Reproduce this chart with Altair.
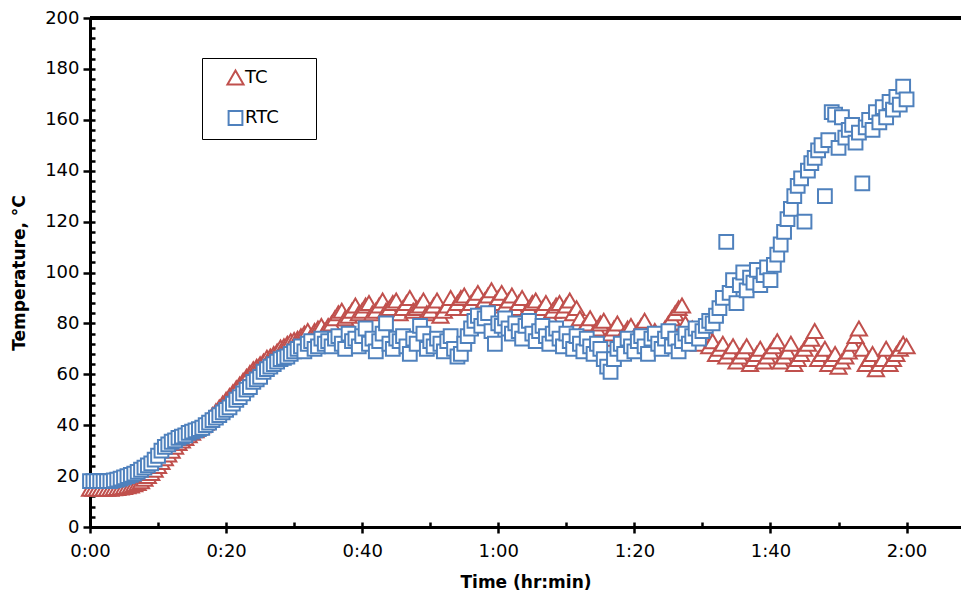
import altair as alt
import pandas as pd

# sampling grid: one reading every 0.5 min (0:00 .. 2:00)
TIME_MIN = [i * 0.5 for i in range(241)]

TC = [
    15, 15, 15, 15, 15, 15, 15, 15.2, 15.3, 15.5, 15.7,
    16, 16.3, 16.8, 17.3, 18, 19, 20, 21.2, 22.5, 24,
    25.5, 27, 28.5, 30, 31.5, 33, 34, 35, 36, 37,
    38, 39, 40, 41, 42.5, 44, 45.5, 47, 48.5, 50,
    51.5, 53, 54.5, 56, 57.5, 59, 60.5, 62, 63, 64,
    65, 66.5, 67, 68, 69, 70.5, 71, 72, 73, 73.5,
    74, 75, 76, 77, 75, 77, 78, 79, 77, 79,
    80, 82, 84, 85, 82, 83, 85, 87, 84, 85,
    87, 88, 84, 85, 87, 89, 85, 86, 88, 89,
    84, 86, 88, 90, 85, 86, 87, 89, 84, 85,
    87, 89, 83, 85, 87, 90, 86, 88, 90, 91,
    86, 88, 90, 92, 87, 89, 91, 93, 88, 90,
    92, 87, 89, 91, 86, 88, 90, 84, 86, 88,
    89, 84, 86, 88, 83, 85, 87, 88, 85, 87,
    89, 84, 86, 82, 78, 80, 82, 76, 78, 80,
    81, 74, 76, 78, 80, 74, 76, 78, 79, 75,
    77, 79, 81, 73, 75, 77, 74, 76, 78, 80,
    82, 84, 86, 87, 80, 76, 78, 74, 72, 75,
    77, 71, 73, 68, 70, 72, 67, 69, 71, 65,
    67, 69, 71, 64, 66, 68, 70, 65, 67, 69,
    71, 73, 65, 67, 69, 72, 64, 66, 68, 70,
    72, 74, 77, 66, 68, 70, 64, 66, 68, 63,
    65, 67, 69, 72, 75, 78, 70, 64, 66, 68,
    62, 64, 66, 70, 64, 66, 68, 70, 72, 71,
]

RTC = [
    18, 18, 18, 18, 18, 18, 18, 18.3, 18.6, 19, 19.5,
    20, 20.5, 21, 21.7, 22.5, 23.3, 24.2, 25, 26.5, 28,
    30, 31.5, 32.5, 33.5, 34, 35, 35.5, 36, 37, 37.5,
    38, 38.5, 39, 40, 41, 42, 43, 44, 45, 46,
    47, 48.5, 50, 51, 52.5, 54, 55, 57, 58, 59,
    61, 62, 63, 64, 65, 66, 66.5, 67, 68, 69,
    70, 71, 69, 72, 73, 70, 71, 74, 72, 73,
    71, 74, 75, 72, 70, 76, 73, 74, 71, 75,
    78, 72, 74, 69, 73, 76, 80, 72, 70, 74,
    73, 75, 71, 68, 74, 72, 79, 76, 70, 73,
    71, 74, 72, 69, 73, 75, 70, 67, 68, 72,
    75, 78, 81, 83, 79, 82, 84, 77, 72, 80,
    79, 82, 78, 76, 80, 77, 74, 79, 81, 76,
    73, 77, 79, 75, 72, 76, 78, 74, 71, 76,
    73, 70, 75, 72, 69, 74, 71, 68, 72, 70,
    66, 63, 61, 66, 70, 72, 68, 74, 71, 69,
    73, 75, 71, 68, 74, 76, 72, 70, 74, 77,
    71, 74, 69, 73, 76, 72, 75, 78, 74, 77,
    79, 81, 80, 83, 86, 90, 112, 92, 97, 88,
    95, 100, 93, 98, 96, 101, 95, 99, 102, 97,
    103, 107, 111, 116, 121, 125, 130, 134, 137, 120,
    140, 143, 145, 148, 150, 130, 152, 163, 162, 149,
    161, 153, 156, 158, 151, 155, 135, 157, 160, 156,
    163, 159, 165, 161, 167, 164, 169, 166, 173, 168,
]

SERIES = ["TC", "RTC"]
COLORS = ["#C0504D", "#4F81BD"]
SHAPES = ["triangle-up", "square"]
X_MAJOR = [0, 20, 40, 60, 80, 100, 120]
X_MINOR = [0, 10, 20, 30, 40, 50, 60, 70, 80, 90, 100, 110, 120]
Y_MAJOR = list(range(0, 201, 20))
Y_MINOR = list(range(0, 201, 4))

df = pd.DataFrame({
    "t": TIME_MIN + TIME_MIN,
    "temp": TC + RTC,
    "series": ["TC"] * len(TC) + ["RTC"] * len(RTC),
})

FONT = "DejaVu Sans"
xscale = alt.Scale(domain=[0, 128], nice=False, zero=False)
yscale = alt.Scale(domain=[0, 200], nice=False)

label_expr = "floor(datum.value/60) + ':' + (datum.value % 60 < 10 ? '0' : '') + (datum.value % 60)"

x_major = alt.Axis(orient="bottom", values=X_MAJOR, labelExpr=label_expr, title="Time (hr:min)",
                   tickSize=6, labelPadding=9, titlePadding=14, labelFlush=False, grid=False)
y_major = alt.Axis(orient="left", values=Y_MAJOR, title="Temperature, °C", tickSize=7,
                   labelPadding=4, titlePadding=16, labelFlush=False, grid=False)

legend = alt.Legend(title=None, orient="none", legendX=112, legendY=40,
                    strokeColor="black", fillColor="white", padding=10,
                    symbolOffset=14, rowPadding=18, labelFontSize=18, labelFont=FONT,
                    symbolSize=210, symbolStrokeWidth=2, symbolFillColor="white",
                    labelOffset=0,
                    labelExpr="datum.label + '\u2800\u2800'")

points = alt.Chart(df).mark_point(filled=False, fill="white", fillOpacity=1, strokeWidth=2, opacity=1).encode(
    x=alt.X("t:Q", scale=xscale, axis=x_major),
    y=alt.Y("temp:Q", scale=yscale, axis=y_major),
    color=alt.Color("series:N", scale=alt.Scale(domain=SERIES, range=COLORS), legend=legend),
    shape=alt.Shape("series:N", scale=alt.Scale(domain=SERIES, range=SHAPES), legend=legend),
    size=alt.Size("series:N", scale=alt.Scale(domain=SERIES, range=[260, 190]), legend=None),
)

minor = alt.Chart(df).mark_point(opacity=0).encode(
    x=alt.X("t:Q", scale=xscale, axis=alt.Axis(orient="bottom", values=X_MINOR, labels=False, title=None,
                                               domain=False, tickSize=5, offset=-5, grid=False)),
    y=alt.Y("temp:Q", scale=yscale, axis=alt.Axis(orient="left", values=Y_MINOR, labels=False, title=None,
                                                  domain=False, tickSize=5, offset=-5, grid=False)),
)

top = alt.Chart(df).mark_rule(color="black", strokeWidth=3).encode(y=alt.datum(200, axis=None))

chart = alt.layer(minor, points, top).resolve_axis(x="independent", y="independent").properties(
    width=871, height=509,
    autosize=alt.AutoSizeParams(type="none"),
    padding={"left": 90, "top": 18, "right": 0, "bottom": 67},
).configure_view(stroke=None).configure_axis(
    domainColor="black", domainWidth=3, tickColor="black", tickWidth=2.5,
    labelFont=FONT, labelFontSize=18, labelColor="black",
    titleFont=FONT, titleFontSize=17, titleFontWeight="bold", titleColor="black",
)

chart.save("out.html", embed_options={"renderer": "svg", "actions": False})
